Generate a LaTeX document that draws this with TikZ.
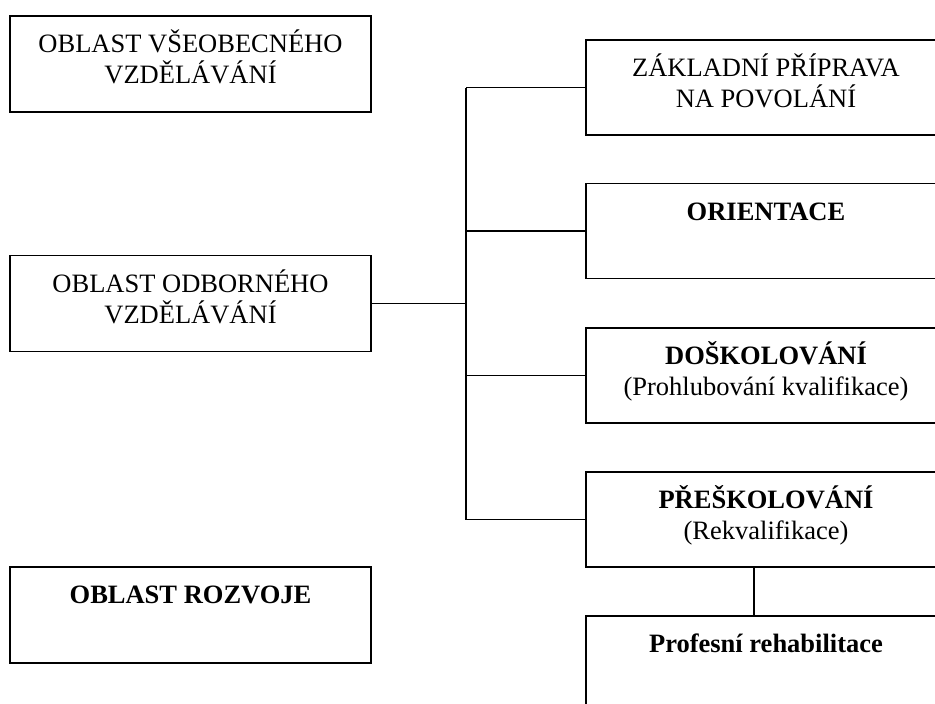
\documentclass[tikz,border=0pt]{standalone}
\usepackage{fontspec}
\setmainfont{Liberation Serif}
\usetikzlibrary{calc}

% text hangs from the top of each box
\newcommand{\intext}[2]{\parbox[c][#1][t]{350pt}{\centering\rule{0pt}{36.5pt}#2}}

\tikzset{
  box/.style={draw,line width=1.8pt,minimum width=361pt,minimum height=96pt,inner sep=0pt,
    font=\fontsize{26.5}{31}\selectfont},
  rbox/.style={box,minimum width=360pt,minimum height=95pt},
  con/.style={line width=1.8pt}
}

\begin{document}
\begin{tikzpicture}[x=1pt,y=-1pt]
\useasboundingbox (0,0) rectangle (935,704);
\clip (0,0) rectangle (935,704);
% left column
\node[box] (vse) at (190.5,64) {\intext{96pt}{OBLAST VŠEOBECNÉHO\\VZDĚLÁVÁNÍ}};
\node[box] (odb) at (190.5,303.5) {\intext{96pt}{OBLAST ODBORNÉHO\\VZDĚLÁVÁNÍ}};
\node[box] (roz) at (190.5,615) {\intext{96pt}{\textbf{OBLAST ROZVOJE}}};
% right column
\node[rbox] (zak) at (766,87.5) {\intext{95pt}{ZÁKLADNÍ PŘÍPRAVA\\NA POVOLÁNÍ}};
\node[rbox] (ori) at (766,231) {\intext{95pt}{\textbf{ORIENTACE}}};
\node[rbox] (dos) at (766,375.5) {\intext{95pt}{\textbf{DOŠKOLOVÁNÍ}\\(Prohlubování kvalifikace)}};
\node[rbox] (pre) at (766,519.5) {\intext{95pt}{\textbf{PŘEŠKOLOVÁNÍ}\\(Rekvalifikace)}};
\node[rbox] (reh) at (766,663.5) {\intext{95pt}{\textbf{Profesní rehabilitace}}};
% connectors
\coordinate (spine) at (466,0);
\draw[con](odb.east)--(spine |- odb.east);
\draw[con](spine |- zak.west)--(spine |- pre.west);
\draw[con](spine |- zak.west)--(zak.west);
\draw[con](spine |- ori.west)--(ori.west);
\draw[con](spine |- dos.west)--(dos.west);
\draw[con](spine |- pre.west)--(pre.west);
\draw[con]($(pre.south)+(-12,0)$)--($(reh.north)+(-12,0)$);
\end{tikzpicture}
\end{document}
